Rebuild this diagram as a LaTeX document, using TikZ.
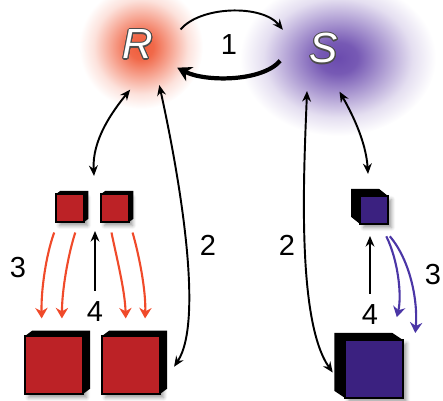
\documentclass[tikz,border=0pt]{standalone}
\usepackage{fontspec}
\setmainfont{Liberation Sans}
\usepackage{contour}
\usetikzlibrary{arrows.meta,shadows.blur}

\definecolor{cubered}{HTML}{BC2226}
\definecolor{cubeblue}{HTML}{3B2180}
\definecolor{flowred}{HTML}{F04A2A}
\definecolor{flowblue}{HTML}{4B36A6}
\definecolor{glowred}{HTML}{F05C3A}
\definecolor{glowblue}{HTML}{6B4BAE}

\pgfdeclareradialshading{glowR}{\pgfpoint{0bp}{0bp}}{color(0bp)=(glowred); color(5bp)=(glowred!92!white); color(12bp)=(glowred!55!white); color(19bp)=(glowred!18!white); color(25bp)=(white); color(50bp)=(white)}
\pgfdeclareradialshading{glowS}{\pgfpoint{0bp}{0bp}}{color(0bp)=(glowblue); color(5bp)=(glowblue!92!white); color(12bp)=(glowblue!55!white); color(19bp)=(glowblue!18!white); color(25bp)=(white); color(50bp)=(white)}

\contourlength{0.6pt}

\tikzset{
  cube/.style={draw=black, line width=1.2pt, inner sep=0pt, outer sep=0pt,
    blur shadow={shadow xshift=2pt, shadow yshift=-2pt, shadow blur steps=6}},
  small/.style={minimum size=0.56cm},
  big/.style={minimum size=1.16cm},
  letter/.style={circle, minimum size=1.8cm, text=white, font=\fontsize{24}{24}\selectfont\itshape},
  num/.style={font=\fontsize{16.5}{16.5}\selectfont},
  link/.style={<->, line width=1.1pt},
  flow/.style={->, line width=1.2pt, >={Stealth[length=6pt,width=7pt]}},
}

\begin{document}
\begin{tikzpicture}[x=0.02cm, y=-0.02cm, >={Stealth[length=6pt,width=5pt]}]
  \useasboundingbox (0,0) rectangle (443,400);

  \shade[shading=glowR] (141,47) circle [radius=62];
  \shade[shading=glowS] (338,58) ellipse [x radius=98, y radius=78];

  \node[letter] (R) at (138,45) {\contour{black!70}{R}};
  \node[letter] (S) at (324,49) {\contour{black!70}{S}};

  \node[cube, small, fill=cubered] (sr1) at (70,208) {};
  \node[cube, small, fill=cubered] (sr2) at (115,208) {};
  \node[cube, big, fill=cubered] (br1) at (54,365) {};
  \node[cube, big, fill=cubered] (br2) at (131,365) {};
  \node[cube, small, fill=cubeblue] (sb) at (374,210) {};
  \node[cube, big, fill=cubeblue] (bb) at (374,369) {};

  \foreach \c/\d/\e in {sr1/2.5/1.8, sr2/2.5/1.8, br1/4/3, br2/4/3}
    \fill (\c.north west) -- ([xshift=\d pt, yshift=\e pt]\c.north west)
      -- ([xshift=\d pt, yshift=\e pt]\c.north east)
      -- ([xshift=\d pt, yshift=\e pt]\c.south east)
      -- (\c.south east) -- (\c.north east) -- cycle;
  \foreach \c/\d/\e in {sb/5/4, bb/6/4}
    \fill (\c.north east) -- ([xshift=-\d pt, yshift=\e pt]\c.north east)
      -- ([xshift=-\d pt, yshift=\e pt]\c.north west)
      -- ([xshift=-\d pt, yshift=\e pt]\c.south west)
      -- (\c.south west) -- (\c.north west) -- cycle;

  \coordinate (rtop) at (94,176);
  \coordinate (rbot) at (95,231);
  \coordinate (btop) at (368,174);
  \coordinate (bbot) at (370,236);

  \node[num] (one) at (229,45) {1};
  \node[num] (twoR) at (208,245) {2};
  \node[num] (twoS) at (287,245) {2};
  \node[num] (threeR) at (18,268) {3};
  \node[num] (threeS) at (433,275) {3};
  \node[num] (fourR) at (95,312) {4};
  \node[num] (fourS) at (370,315) {4};

  \draw[->, line width=1.1pt] (R.20) .. controls (200,6) and (262,4) .. (S.155);
  \draw[->, line width=2.4pt, >={Stealth[length=8pt,width=9pt]}] (S.195) .. controls (262,82) and (205,82) .. (R.-30);

  \draw[link] (R.-100) .. controls (112,112) and (92,140) .. (rtop);
  \draw[link] (R.-62) .. controls (178,170) and (205,320) .. ([xshift=8pt,yshift=-1pt]br2.east);
  \draw[link] (S.-112) .. controls (304,170) and (296,320) .. ([xshift=-7pt,yshift=-2pt]bb.west);
  \draw[link] (S.-70) .. controls (350,110) and (366,140) .. (btop);

  \draw[->, line width=1.1pt, shorten <=3pt] (fourR) -- (rbot);
  \draw[->, line width=1.1pt, shorten <=3pt] (fourS) -- (bbot);

  \draw[flow, flowred] ([xshift=-9pt,yshift=-6pt]sr1.south) .. controls (46,255) and (41,290) .. ([xshift=-7pt,yshift=10pt]br1.north);
  \draw[flow, flowred] ([xshift=3pt,yshift=-6pt]sr1.south) .. controls (68,255) and (62,290) .. ([xshift=4.5pt,yshift=10pt]br1.north);
  \draw[flow, flowred] ([xshift=-2pt,yshift=-6pt]sr2.south) .. controls (116,255) and (125,290) .. ([xshift=-3pt,yshift=10pt]br2.north);
  \draw[flow, flowred] ([xshift=10pt,yshift=-6pt]sr2.south) .. controls (139,255) and (146,290) .. ([xshift=8pt,yshift=10pt]br2.north);

  \draw[flow, flowblue] ([xshift=7pt,yshift=-7pt]sb.south) .. controls (398,260) and (402,295) .. ([xshift=13pt,yshift=13pt]bb.north);
  \draw[flow, flowblue] ([xshift=9pt,yshift=-7pt]sb.south) .. controls (410,260) and (418,300) .. ([xshift=7pt,yshift=4pt]bb.north east);
\end{tikzpicture}
\end{document}
